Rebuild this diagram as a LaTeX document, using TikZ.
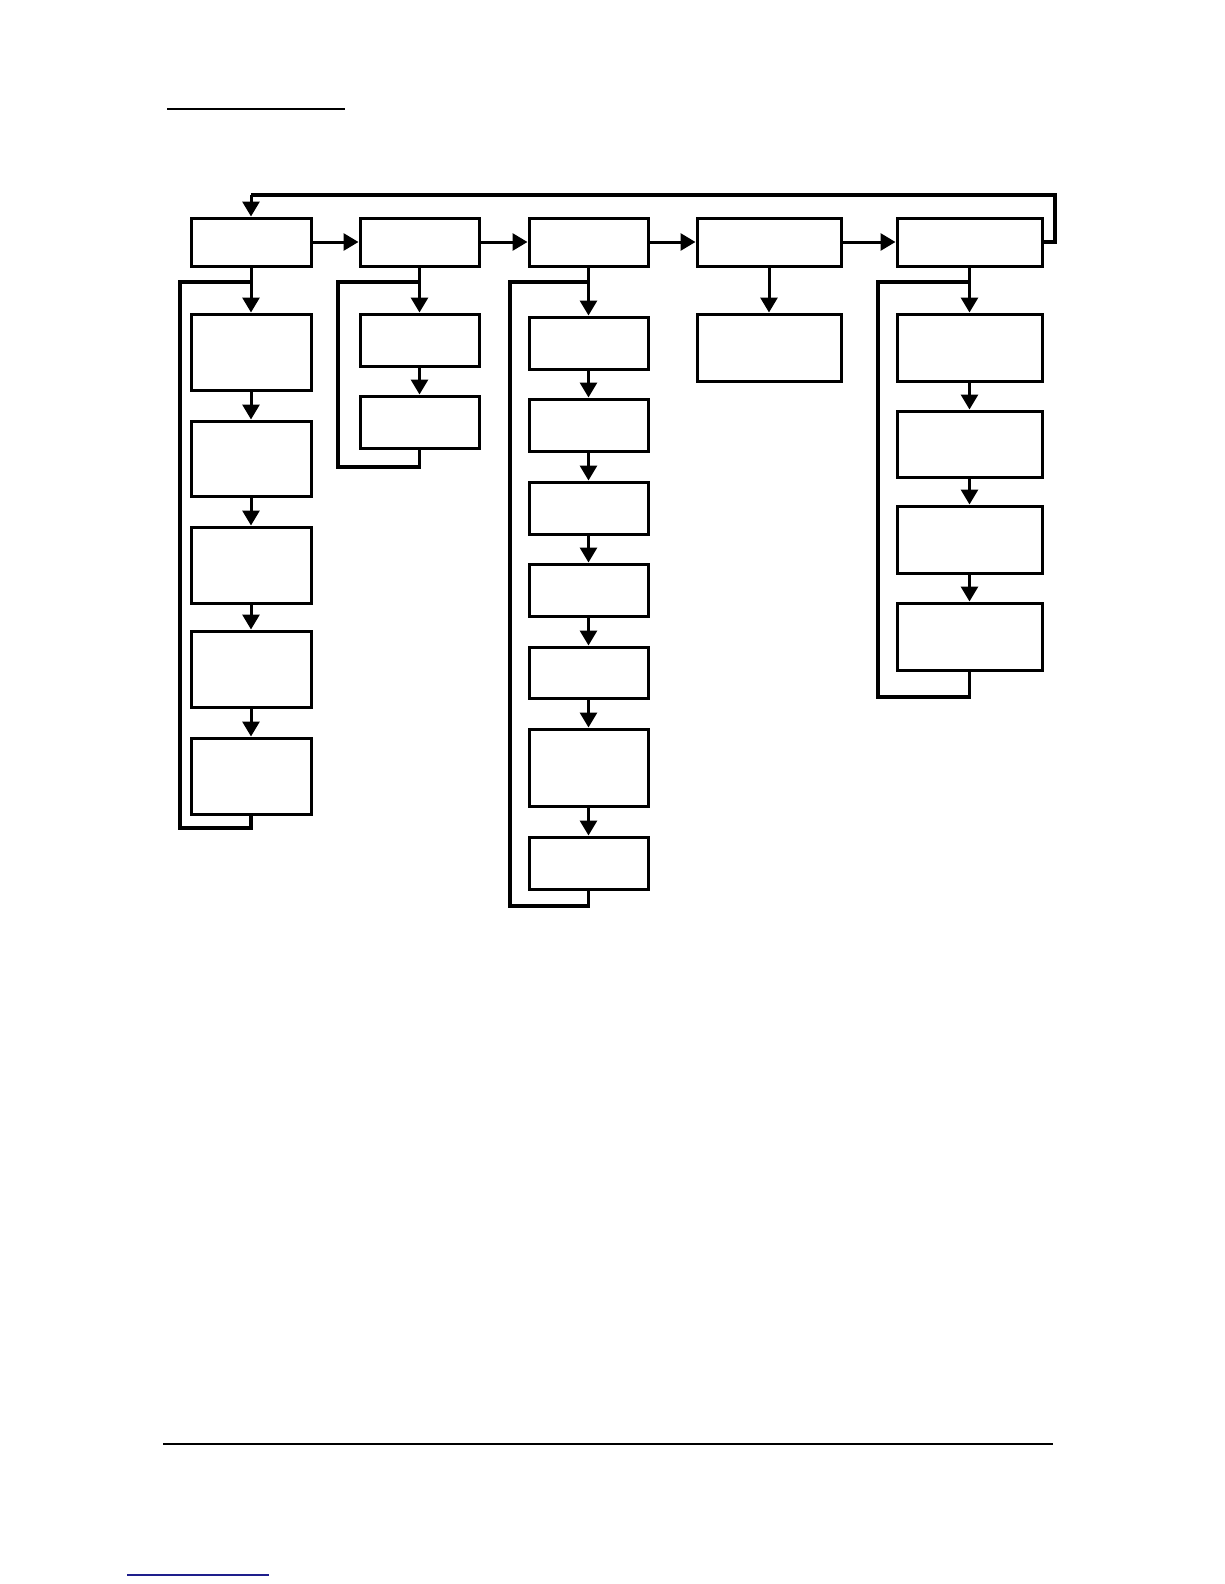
\documentclass[tikz,border=0pt]{standalone}
\usetikzlibrary{arrows.meta}
\begin{document}
\begin{tikzpicture}[x=1pt,y=-1pt,
  box/.style={draw, line width=3pt, inner sep=0pt, fill=white},
  arr/.style={line width=3pt, -{Triangle[width=17pt,length=15pt]}},
  ln/.style={line width=3.2pt}]
\useasboundingbox (0,0) rectangle (1224,1584);
% header / footer rules
\coordinate (h1) at (167,109); \coordinate (h2) at (345,109);
\draw[line width=1.6pt] (h1) -- (h2);
\coordinate (f1) at (163,1444); \coordinate (f2) at (1053,1444);
\draw[line width=2.2pt] (f1) -- (f2);
\definecolor{linkblue}{RGB}{30,30,140}
\coordinate (b1) at (127,1575); \coordinate (b2) at (269,1575);
\draw[line width=2pt, linkblue] (b1) -- (b2);
% top row
\node[box, minimum width=120pt, minimum height=48pt] (t1) at (251,242) {};
\node[box, minimum width=119pt, minimum height=48pt] (t2) at (419.5,242) {};
\node[box, minimum width=119pt, minimum height=48pt] (t3) at (588.5,242) {};
\node[box, minimum width=144pt, minimum height=48pt] (t4) at (769,242) {};
\node[box, minimum width=145pt, minimum height=48pt] (t5) at (969.5,242) {};
% column 1
\node[box, minimum width=120pt, minimum height=76pt] (a1) at (251,352) {};
\node[box, minimum width=120pt, minimum height=75pt] (a2) at (251,458.5) {};
\node[box, minimum width=120pt, minimum height=76pt] (a3) at (251,565) {};
\node[box, minimum width=120pt, minimum height=76pt] (a4) at (251,669) {};
\node[box, minimum width=120pt, minimum height=76pt] (a5) at (251,776) {};
% column 2
\node[box, minimum width=119pt, minimum height=52pt] (b1n) at (419.5,340) {};
\node[box, minimum width=119pt, minimum height=52pt] (b2n) at (419.5,422) {};
% column 3
\node[box, minimum width=119pt, minimum height=52pt] (c1) at (588.5,343) {};
\node[box, minimum width=119pt, minimum height=52pt] (c2) at (588.5,425) {};
\node[box, minimum width=119pt, minimum height=52pt] (c3) at (588.5,508) {};
\node[box, minimum width=119pt, minimum height=52pt] (c4) at (588.5,590) {};
\node[box, minimum width=119pt, minimum height=51pt] (c5) at (588.5,672.5) {};
\node[box, minimum width=119pt, minimum height=77pt] (c6) at (588.5,767.5) {};
\node[box, minimum width=119pt, minimum height=52pt] (c7) at (588.5,863) {};
% column 4
\node[box, minimum width=144pt, minimum height=67pt] (d1) at (769,347.5) {};
% column 5
\node[box, minimum width=145pt, minimum height=67pt] (e1) at (969.5,347.5) {};
\node[box, minimum width=145pt, minimum height=66pt] (e2) at (969.5,444) {};
\node[box, minimum width=145pt, minimum height=67pt] (e3) at (969.5,539.5) {};
\node[box, minimum width=145pt, minimum height=67pt] (e4) at (969.5,636.5) {};
% horizontal arrows
\draw[arr] (t1.east) -- (t2.west);
\draw[arr] (t2.east) -- (t3.west);
\draw[arr] (t3.east) -- (t4.west);
\draw[arr] (t4.east) -- (t5.west);
% feedback from last to first
\coordinate (fb1) at (1055,242);
\coordinate (fb2) at (1055,195);
\draw[ln] (t5.east) -- (fb1) -- (fb2) -- (fb2 -| t1.north);
\draw[arr] (fb2 -| t1.north) -- (t1.north);
% column 1 arrows
\draw[arr] (t1.south) -- (a1.north);
\draw[arr] (a1.south) -- (a2.north);
\draw[arr] (a2.south) -- (a3.north);
\draw[arr] (a3.south) -- (a4.north);
\draw[arr] (a4.south) -- (a5.north);
\coordinate (la) at (180,828); \coordinate (lb) at (180,282);
\draw[ln] (a5.south) -- (a5.south |- la) -- (la) -- (lb) -- (lb -| t1.south);
% column 2 arrows
\draw[arr] (t2.south) -- (b1n.north);
\draw[arr] (b1n.south) -- (b2n.north);
\coordinate (lc) at (338,467); \coordinate (ld) at (338,282);
\draw[ln] (b2n.south) -- (b2n.south |- lc) -- (lc) -- (ld) -- (ld -| t2.south);
% column 3 arrows
\draw[arr] (t3.south) -- (c1.north);
\draw[arr] (c1.south) -- (c2.north);
\draw[arr] (c2.south) -- (c3.north);
\draw[arr] (c3.south) -- (c4.north);
\draw[arr] (c4.south) -- (c5.north);
\draw[arr] (c5.south) -- (c6.north);
\draw[arr] (c6.south) -- (c7.north);
\coordinate (le) at (510,906); \coordinate (lf) at (510,282);
\draw[ln] (c7.south) -- (c7.south |- le) -- (le) -- (lf) -- (lf -| t3.south);
% column 4 arrow
\draw[arr] (t4.south) -- (d1.north);
% column 5 arrows
\draw[arr] (t5.south) -- (e1.north);
\draw[arr] (e1.south) -- (e2.north);
\draw[arr] (e2.south) -- (e3.north);
\draw[arr] (e3.south) -- (e4.north);
\coordinate (lg) at (878,697); \coordinate (lh) at (878,282);
\draw[ln] (e4.south) -- (e4.south |- lg) -- (lg) -- (lh) -- (lh -| t5.south);
\end{tikzpicture}
\end{document}
